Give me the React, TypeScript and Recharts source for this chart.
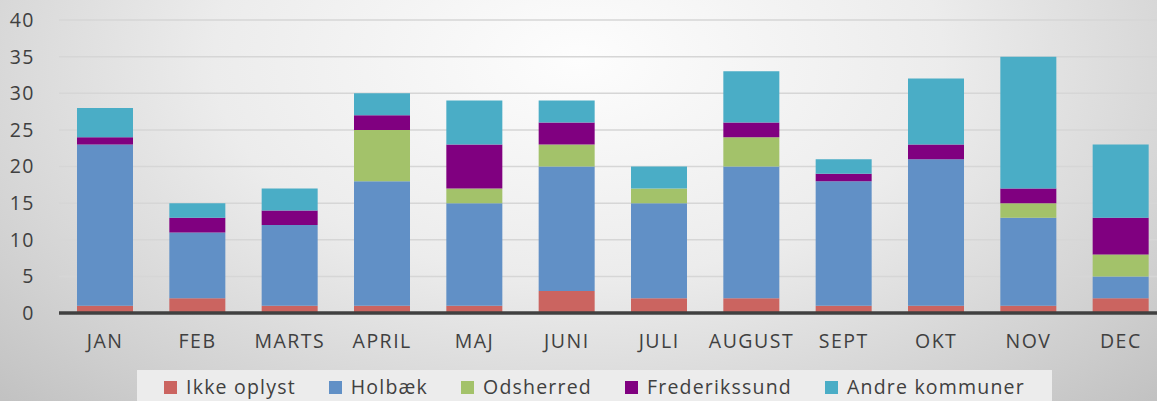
import React from 'react';
import { BarChart, Bar, XAxis, YAxis, CartesianGrid, Legend } from 'recharts';

const months = ['JAN', 'FEB', 'MARTS', 'APRIL', 'MAJ', 'JUNI', 'JULI', 'AUGUST', 'SEPT', 'OKT', 'NOV', 'DEC'];
const ikkeOplyst = [1, 2, 1, 1, 1, 3, 2, 2, 1, 1, 1, 2];
const holbaek = [22, 9, 11, 17, 14, 17, 13, 18, 17, 20, 12, 3];
const odsherred = [0, 0, 0, 7, 2, 3, 2, 4, 0, 0, 2, 3];
const frederikssund = [1, 2, 2, 2, 6, 3, 0, 2, 1, 2, 2, 5];
const andreKommuner = [4, 2, 3, 3, 6, 3, 3, 7, 2, 9, 18, 10];
const yTicks = [0, 5, 10, 15, 20, 25, 30, 35, 40];

const series = [
  { key: 'ikke', name: 'Ikke oplyst', color: '#cb6460', values: ikkeOplyst },
  { key: 'holbaek', name: 'Holbæk', color: '#6190c6', values: holbaek },
  { key: 'odsherred', name: 'Odsherred', color: '#a3c26a', values: odsherred },
  { key: 'frederikssund', name: 'Frederikssund', color: '#800080', values: frederikssund },
  { key: 'andre', name: 'Andre kommuner', color: '#4aadc6', values: andreKommuner },
];

const data = months.map((m, i) => {
  const row: Record<string, string | number> = { month: m };
  series.forEach((s) => {
    row[s.key] = s.values[i];
  });
  return row;
});

const FONT = '"Open Sans", sans-serif';
const TEXT = '#404040';

const LegendContent = () => (
  <div
    style={{
      display: 'flex',
      justifyContent: 'center',
      alignItems: 'center',
      height: 40,
      background: '#ececec',
      fontFamily: FONT,
      fontSize: 19.5,
      lineHeight: '24px',
      letterSpacing: 1.2,
      color: TEXT,
      gap: 33,
      paddingBottom: 6,
      boxSizing: 'border-box',
    }}
  >
    {series.map((s) => (
      <div key={s.key} style={{ display: 'flex', alignItems: 'center' }}>
        <span style={{ display: 'inline-block', width: 13, height: 13, background: s.color, marginRight: 9 }} />
        <span>{s.name}</span>
      </div>
    ))}
  </div>
);

export default function App() {
  return (
    <div
      style={{
        position: 'absolute',
        top: 0,
        left: 0,
        width: 1157,
        height: 401,
        overflow: 'hidden',
        background:
          'radial-gradient(ellipse 70% 120% at 50% 15%, #fdfdfd 0%, #ececec 45%, #d2d2d2 80%, #c2c2c2 100%)',
      }}
    >
      <BarChart
        width={1167}
        height={410}
        data={data}
        margin={{ top: 20, right: 0, bottom: 0, left: 0 }}
        barSize={56}
      >
        <CartesianGrid vertical={false} stroke="#d6d6d6" strokeWidth={1.5} />
        <YAxis
          domain={[0, 40]}
          ticks={yTicks}
          width={59}
          axisLine={false}
          tickLine={false}
          tickMargin={18}
          tick={{ fill: TEXT, fontSize: 19.5, fontFamily: FONT, letterSpacing: 1.5 }}
          interval={0}
        />
        {series.map((s) => (
          <Bar key={s.key} dataKey={s.key} name={s.name} stackId="a" fill={s.color} isAnimationActive={false} />
        ))}
        <XAxis
          dataKey="month"
          height={57}
          axisLine={{ stroke: '#404040', strokeWidth: 3.5 }}
          tickLine={false}
          tickMargin={15}
          interval={0}
          tick={{ fill: TEXT, fontSize: 19.5, fontFamily: FONT, letterSpacing: 1.5 }}
        />
        <Legend
          verticalAlign="bottom"
          content={<LegendContent />}
          wrapperStyle={{ left: 137, width: 915, bottom: 0, height: 40 }}
        />
      </BarChart>
    </div>
  );
}
